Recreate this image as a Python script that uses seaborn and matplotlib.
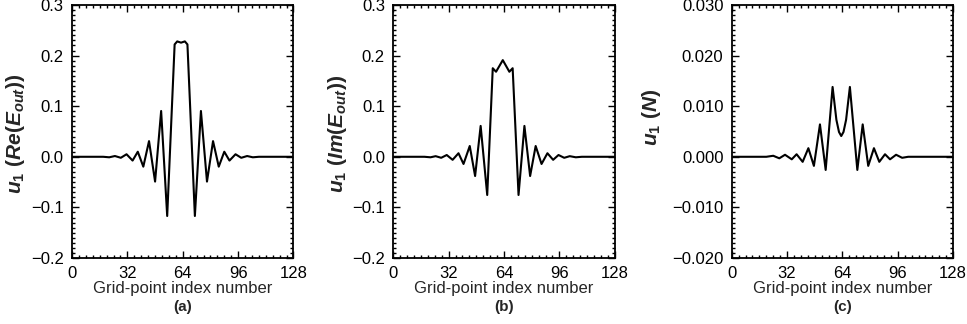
import numpy as np
import pandas as pd
import matplotlib
matplotlib.use('Agg')
import matplotlib.pyplot as plt
from matplotlib.ticker import MultipleLocator, FuncFormatter
import seaborn as sns

# values (grid-point index vs u1)
a_x = [0, 18, 21.5, 24.8, 28.2, 31.5, 35.0, 38.0, 41.2, 44.5, 48.0, 51.5, 55.0, 59.3, 60.8, 63.0,
       65.2, 66.7, 71.0, 74.5, 78.0, 81.5, 84.8, 88.0, 91.0, 94.5, 97.8, 101.2, 104.5, 108, 128]
a_y = [0, 0, -0.001, 0.0015, -0.002, 0.005, -0.0075, 0.010, -0.0195, 0.031, -0.049, 0.0905, -0.117,
       0.222, 0.228, 0.2255, 0.228, 0.222, -0.117, 0.0905, -0.049, 0.031, -0.0195, 0.010, -0.0075,
       0.005, -0.002, 0.0015, -0.001, 0, 0]

b_x = [0, 18, 21.5, 24.5, 27.7, 30.9, 34.3, 37.7, 40.6, 44.2, 47.3, 50.5, 54.3, 57.5, 59.4, 63.3,
       67.1, 69.0, 72.4, 75.8, 79.1, 82.3, 85.7, 89.1, 92.4, 95.5, 98.8, 102, 105.5, 109, 128]
b_y = [0, 0, -0.001, 0.0012, -0.002, 0.0035, -0.006, 0.007, -0.0142, 0.0213, -0.038, 0.061, -0.0755,
       0.175, 0.168, 0.191, 0.168, 0.175, -0.0755, 0.061, -0.038, 0.0213, -0.0142, 0.007, -0.006,
       0.0035, -0.002, 0.0012, -0.001, 0, 0]

c_x = [0, 20, 24, 27.5, 30.8, 34.7, 37.5, 41.0, 44.3, 47.5, 51.0, 54.3, 58.3, 60.5, 62.0, 63.3,
       64.6, 66.1, 68.3, 72.6, 75.7, 78.9, 82.2, 85.3, 88.6, 91.5, 95.0, 98.5, 102, 128]
c_y = [0, 0, 0.0002, -0.0003, 0.0004, -0.0005, 0.0005, -0.001, 0.0017, -0.0018, 0.0064, -0.0026,
       0.0138, 0.0073, 0.0049, 0.0041, 0.0049, 0.0073, 0.0138, -0.0026, 0.0064, -0.0018, 0.0017,
       -0.001, 0.0005, -0.0005, 0.0004, -0.0002, 0, 0]

x_ticks = [0, 32, 64, 96, 128]

sns.set_style('ticks')
plt.rcParams['font.family'] = ['Liberation Sans', 'DejaVu Sans']
plt.rcParams['mathtext.fontset'] = 'custom'
plt.rcParams['mathtext.it'] = 'Liberation Sans:italic:bold'
plt.rcParams['mathtext.rm'] = 'Liberation Sans:bold'
plt.rcParams['mathtext.bf'] = 'Liberation Sans:bold'

fig = plt.figure(figsize=(9.67, 3.24), dpi=100)

panels = [
    (a_x, a_y, 0.0745, (-0.2, 0.3), 0.1, 0.01, '%.1f', r'$u_1\ (Re(E_{out}))$', (-0.203, 0.49), '(a)'),
    (b_x, b_y, 0.4067, (-0.2, 0.3), 0.1, 0.01, '%.1f', r'$u_1\ (Im(E_{out}))$', (-0.200, 0.49), '(b)'),
    (c_x, c_y, 0.7567, (-0.02, 0.03), 0.01, 0.001, '%.3f', r'$u_1\ (N)$', (-0.31, 0.555), '(c)'),
]

for xs, ys, left, ylim, major, minor, fmt, ylab, lab_pos, tag in panels:
    ax = fig.add_axes([left, 0.2037, 0.229, 0.781])
    df = pd.DataFrame({'x': xs, 'y': ys})
    sns.lineplot(data=df, x='x', y='y', ax=ax, color='black', linewidth=1.5)
    ax.set_xlim(0, 128)
    ax.set_ylim(*ylim)
    ax.set_xticks(x_ticks)
    ax.xaxis.set_minor_locator(MultipleLocator(4))
    ax.yaxis.set_major_locator(MultipleLocator(major))
    ax.yaxis.set_minor_locator(MultipleLocator(minor))
    ax.yaxis.set_major_formatter(FuncFormatter(lambda v, p, f=fmt: (f % v).replace('-', '\u2212')))
    ax.tick_params(which='both', direction='in', top=True, right=True, colors='black',
                   labelsize=12, width=1)
    ax.tick_params(which='major', length=5, pad=6)
    ax.tick_params(which='minor', length=2.5)
    for s in ax.spines.values():
        s.set_linewidth(1.3)
        s.set_color('black')
    ax.set_xlabel('Grid-point index number', fontsize=12, labelpad=0)
    ax.set_ylabel(ylab, fontsize=15)
    ax.yaxis.set_label_coords(*lab_pos)
    fig.text(left + 0.229 / 2, 0.052, tag, ha='center', va='center', fontsize=11, fontweight='bold')

fig.savefig('out.png', dpi=100)
